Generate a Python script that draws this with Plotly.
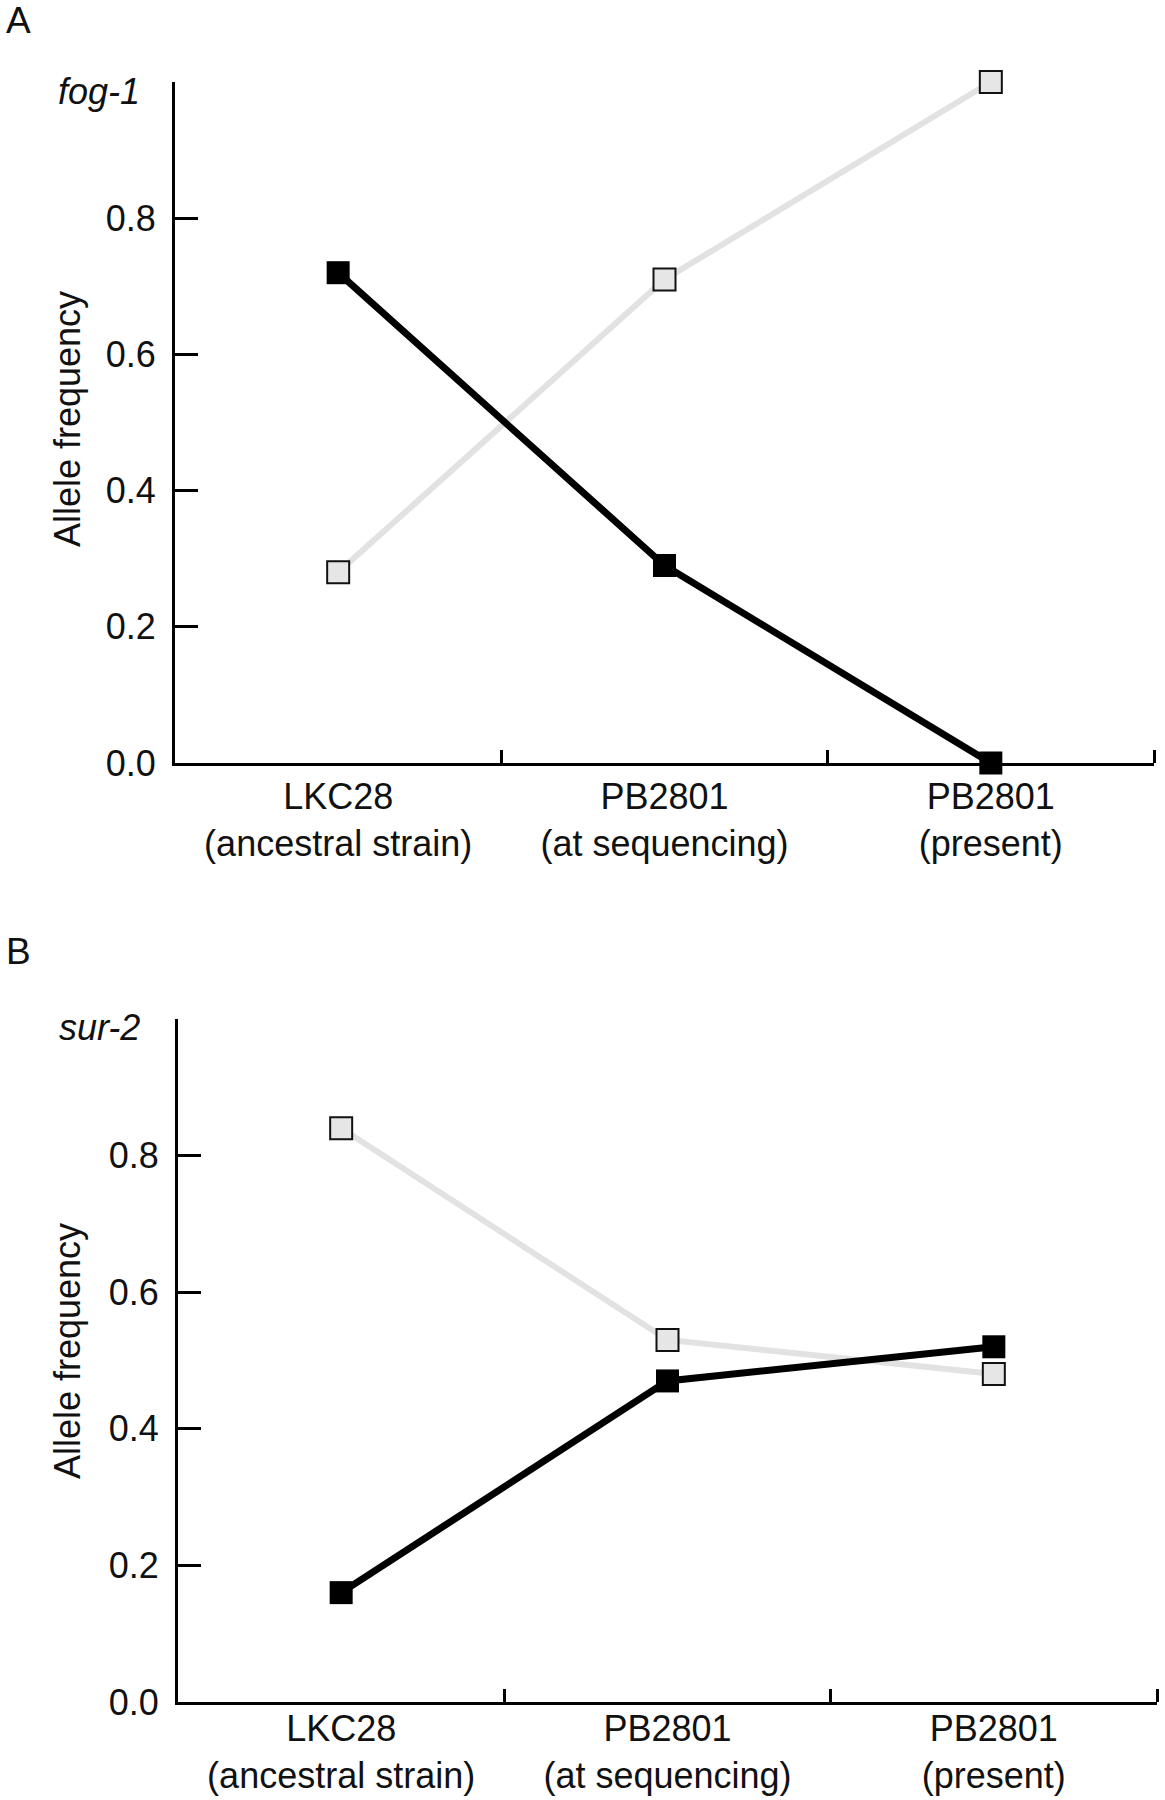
import plotly.graph_objects as go

categories = ["LKC28<br>(ancestral strain)", "PB2801<br>(at sequencing)", "PB2801<br>(present)"]
cat_pos = [0.5, 1.5, 2.5]
y_ticks = [0.0, 0.2, 0.4, 0.6, 0.8]
y_ticktext = ["0.0", "0.2", "0.4", "0.6", "0.8"]

fog1_black = [0.72, 0.29, 0.00]
fog1_gray = [0.28, 0.71, 1.00]
sur2_black = [0.16, 0.47, 0.52]
sur2_gray = [0.84, 0.53, 0.48]

W, H = 1165, 1800
FONT = "Liberation Sans, Arial, sans-serif"
FS = 36

fig = go.Figure()

def add_panel(xa, ya, gray, black):
    fig.add_trace(go.Scatter(
        x=cat_pos, y=gray, xaxis=xa, yaxis=ya, mode="lines+markers",
        line=dict(color="#e2e2e2", width=6),
        marker=dict(symbol="square", size=22, color="#e6e6e6",
                    line=dict(color="#111111", width=2)),
        showlegend=False, cliponaxis=False))
    fig.add_trace(go.Scatter(
        x=cat_pos, y=black, xaxis=xa, yaxis=ya, mode="lines+markers",
        line=dict(color="#000000", width=7),
        marker=dict(symbol="square", size=23, color="#000000",
                    line=dict(color="#000000", width=0)),
        showlegend=False, cliponaxis=False))

add_panel("x", "y", fog1_gray, fog1_black)
add_panel("x2", "y2", sur2_gray, sur2_black)

def px_x(p):
    return p / W

def px_y(p):
    return 1 - p / H

def xaxis_style(standoff):
    return dict(
        range=[0, 3], showgrid=False, zeroline=False, showline=True,
        linecolor="#000000", linewidth=3, tickmode="array",
        tickvals=cat_pos, ticktext=categories, ticks="", ticklen=0,
        tickfont=dict(family=FONT, size=FS, color="#111111"),
        ticklabelstandoff=standoff,
        minor=dict(tickmode="array", tickvals=[1, 2, 3], ticks="inside",
                   ticklen=13, tickwidth=3, tickcolor="#000000", showgrid=False),
        fixedrange=True,
    )

ycommon = dict(
    range=[0, 1], showgrid=False, zeroline=False, showline=True,
    linecolor="#000000", linewidth=3, tickmode="array",
    tickvals=y_ticks, ticktext=y_ticktext, ticks="inside", ticklen=23,
    tickwidth=3, tickcolor="#000000",
    tickfont=dict(family=FONT, size=FS, color="#111111"),
    ticklabelstandoff=9, fixedrange=True,
)

fig.update_layout(
    width=W, height=H,
    margin=dict(l=0, r=0, t=0, b=0),
    paper_bgcolor="white", plot_bgcolor="white",
    xaxis=dict(domain=[px_x(175), px_x(1154)], anchor="y", **xaxis_style(0)),
    yaxis=dict(domain=[px_y(772), px_y(83)], anchor="x", **ycommon),
    xaxis2=dict(domain=[px_x(178), px_x(1157)], anchor="y2", **xaxis_style(-7)),
    yaxis2=dict(domain=[px_y(1722), px_y(1031)], anchor="x2", **ycommon),
)

annots = [
    dict(text="A", x=px_x(4), y=px_y(21), xanchor="left", yanchor="middle", size=37),
    dict(text="B", x=px_x(4), y=px_y(963), xanchor="left", yanchor="middle", size=37),
    dict(text="<i>fog-1</i>", x=px_x(142), y=px_y(93), xanchor="right", yanchor="middle", size=FS),
    dict(text="<i>sur-2</i>", x=px_x(142), y=px_y(1040), xanchor="right", yanchor="middle", size=FS),
]
for a in annots:
    fig.add_annotation(text=a["text"], x=a["x"], y=a["y"], xref="paper", yref="paper",
                       xanchor=a["xanchor"], yanchor=a["yanchor"], showarrow=False,
                       font=dict(family=FONT, size=a["size"], color="#111111"))

for yc in [424, 1367]:
    fig.add_annotation(text="Allele frequency", x=px_x(67), y=px_y(yc), xref="paper", yref="paper",
                       xanchor="center", yanchor="middle", textangle=-90, showarrow=False,
                       font=dict(family=FONT, size=FS, color="#111111"))

fig.write_html("out.html")
